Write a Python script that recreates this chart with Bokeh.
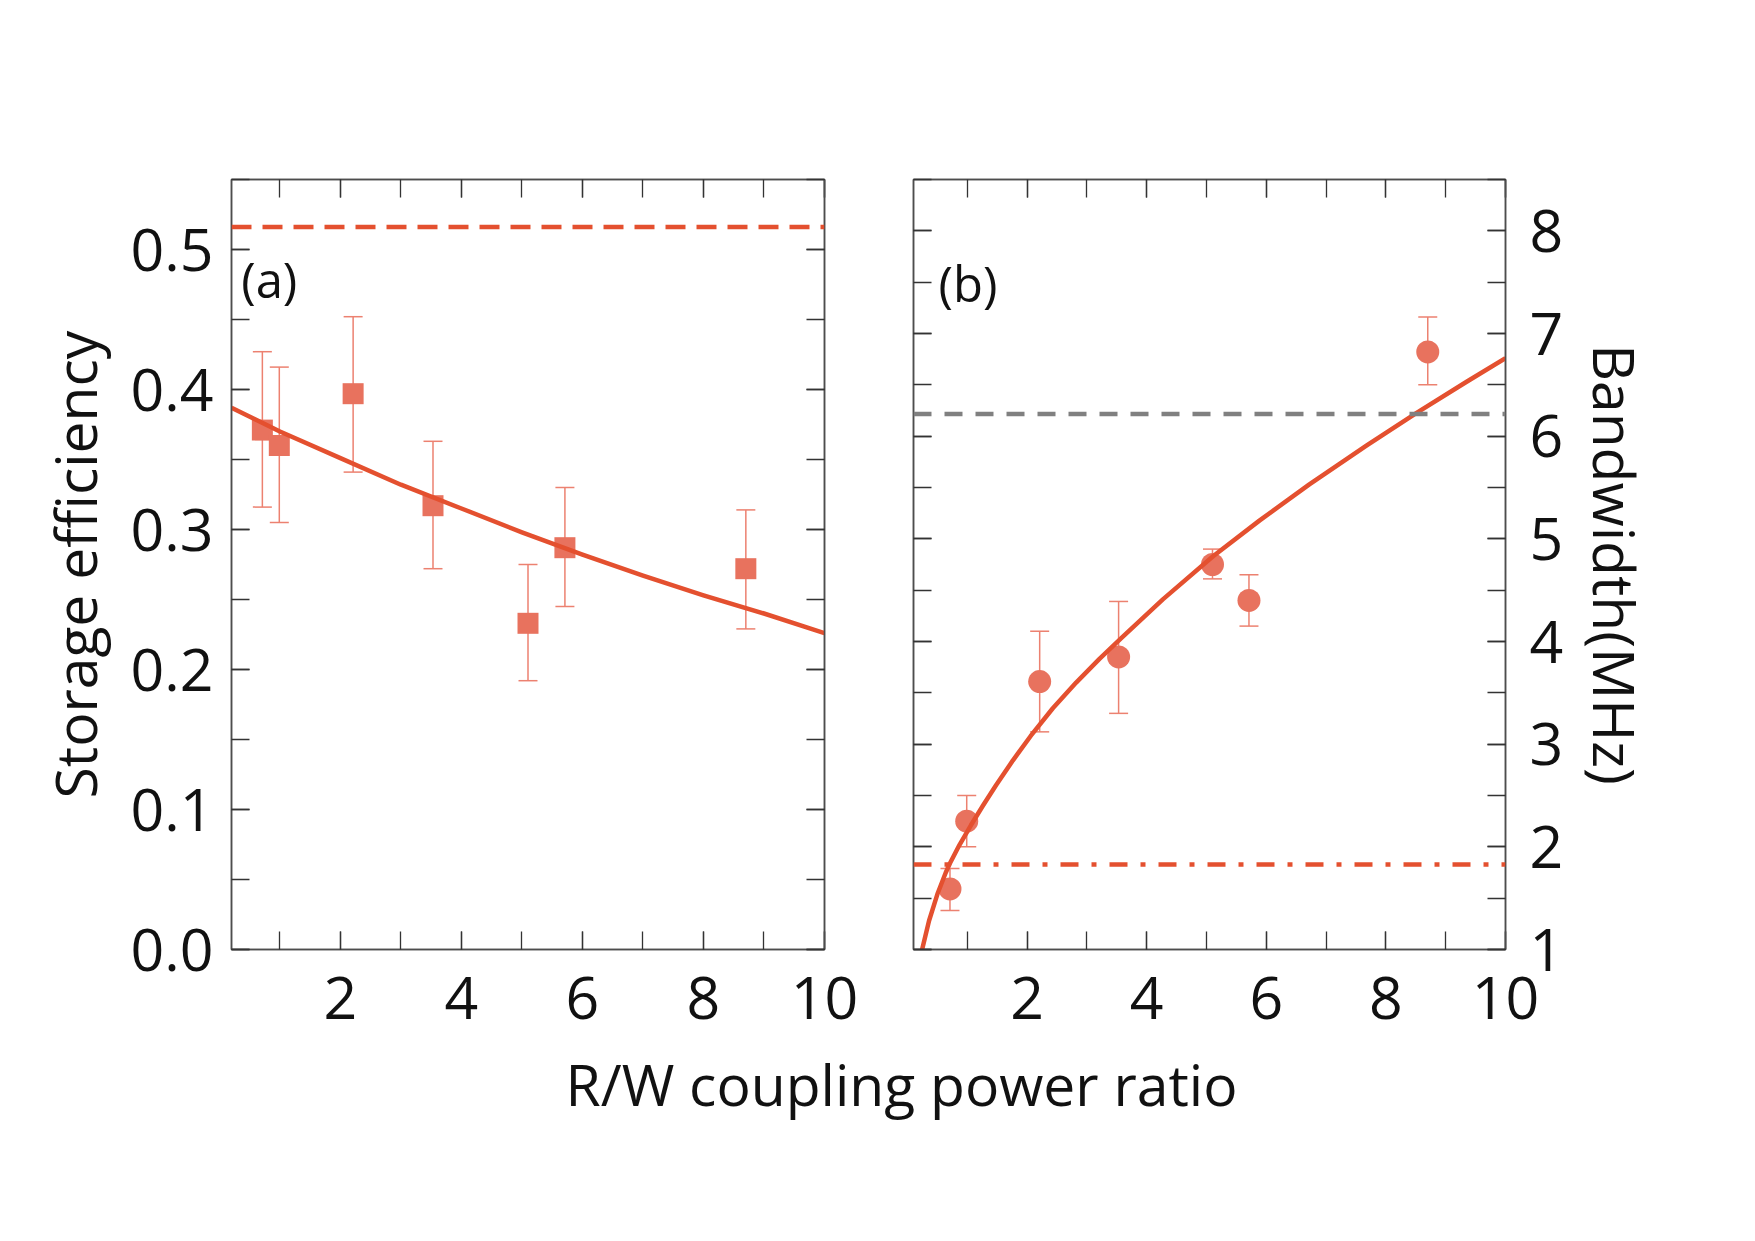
from bokeh.plotting import figure
from bokeh.layouts import row, column
from bokeh.models import (Range1d, LinearAxis, SingleIntervalTicker, PrintfTickFormatter,
                          Span, Label, CustomLabelingPolicy)
from bokeh.embed import file_html
from bokeh.resources import INLINE

# ---------------- data ----------------
ratio = [0.71, 0.99, 2.21, 3.53, 5.10, 5.71, 8.70]

eff = [0.371, 0.360, 0.397, 0.317, 0.233, 0.287, 0.272]
eff_hi = [0.427, 0.416, 0.452, 0.363, 0.275, 0.330, 0.314]
eff_lo = [0.316, 0.305, 0.341, 0.272, 0.192, 0.245, 0.229]

bw = [1.59, 2.25, 3.61, 3.85, 4.75, 4.40, 6.82]
bw_hi = [1.79, 2.50, 4.10, 4.39, 4.90, 4.65, 7.16]
bw_lo = [1.38, 2.00, 3.12, 3.30, 4.61, 4.15, 6.50]

fit_a_x = [0.2, 1, 2, 3, 4, 5, 6, 7, 8, 9, 10]
fit_a_y = [0.387, 0.370, 0.351, 0.332, 0.315, 0.298, 0.282, 0.267, 0.253, 0.240, 0.226]

fit_b_x = [0.24, 0.36, 0.50, 0.64, 0.71, 0.87, 1.06, 1.26, 1.48, 1.76, 2.06, 2.43,
           2.82, 3.21, 3.57, 4.27, 5.11, 5.89, 6.72, 7.68, 8.52, 9.35, 10.0]
fit_b_y = [0.99, 1.28, 1.54, 1.75, 1.84, 2.02, 2.21, 2.40, 2.60, 2.84, 3.08, 3.35,
           3.60, 3.83, 4.03, 4.41, 4.83, 5.18, 5.53, 5.91, 6.23, 6.53, 6.76]

eff_limit = 0.516
bw_gray = 6.216
bw_dashdot = 1.829

x_label = "R/W coupling power ratio"
ya_label = "Storage efficiency"
yb_label = "Bandwidth(MHz)"

# ---------------- styles ----------------
FONT = "Open Sans"
MARK = "#E8725E"
LINE = "#E4502F"
ERR = "#EC8170"
FRAME = "#4d4d4d"
TXT = "#111111"
TICK_SIZE = "59px"

NO_LABELS = CustomLabelingPolicy(code="""
for (let i = 0; i < indices.size; i++) { indices.unset(i) }
return indices
""")


def style_axis(ax, show_labels, standoff=18):
    ax.major_tick_in = 18
    ax.major_tick_out = 0
    ax.minor_tick_in = 18
    ax.minor_tick_out = 0
    ax.major_tick_line_color = "#333333"
    ax.minor_tick_line_color = "#333333"
    ax.major_tick_line_width = 1.3
    ax.minor_tick_line_width = 1.3
    ax.axis_line_color = FRAME
    ax.axis_line_width = 1.5
    ax.major_label_text_font = FONT
    ax.major_label_text_color = TXT
    ax.major_label_standoff = standoff
    ax.axis_label_text_font = FONT
    ax.axis_label_text_color = TXT
    ax.axis_label_text_font_style = "normal"
    if show_labels:
        ax.major_label_text_font_size = TICK_SIZE
    else:
        ax.major_label_text_font_size = "1px"
        ax.major_label_policy = NO_LABELS
        ax.major_label_standoff = 0


def make_panel(width, bl, br, xr, yr, xtick, ytick, yfmt, ylab_side):
    p = figure(width=width, height=1060, x_range=xr, y_range=yr,
               output_backend="svg", toolbar_location=None,
               x_axis_location=None, y_axis_location=None,
               min_border_left=bl, min_border_right=br,
               min_border_top=179, min_border_bottom=111)
    p.outline_line_color = FRAME
    p.outline_line_width = 1.5
    p.xgrid.visible = False
    p.ygrid.visible = False
    p.background_fill_color = "white"
    p.border_fill_color = "white"
    axes = {}
    for side in ["below", "above"]:
        ax = LinearAxis(ticker=SingleIntervalTicker(interval=xtick[0], num_minor_ticks=xtick[1]))
        style_axis(ax, side == "below", standoff=27)
        p.add_layout(ax, side)
        axes[side] = ax
    for side in ["left", "right"]:
        ax = LinearAxis(ticker=SingleIntervalTicker(interval=ytick[0], num_minor_ticks=ytick[1]),
                        formatter=PrintfTickFormatter(format=yfmt))
        style_axis(ax, side == ylab_side, standoff=18 if side == "left" else 24)
        p.add_layout(ax, side)
        axes[side] = ax
    return p, axes


# ---------------- panel (a) ----------------
pa, axa = make_panel(868, 231, 44, Range1d(0.2, 10), Range1d(0, 0.55),
                     (2, 2), (0.1, 2), "%.1f", "left")
axa["left"].axis_label = ya_label
axa["left"].axis_label_text_font_size = "57px"
axa["left"].axis_label_standoff = 14

pa.segment(x0=ratio, y0=eff_lo, x1=ratio, y1=eff_hi, line_color=ERR, line_width=1.5)
pa.scatter(x=ratio + ratio, y=eff_lo + eff_hi, marker="dash", size=19,
           line_color=ERR, line_width=1.5)
pa.scatter(x=ratio, y=eff, marker="square", size=21, fill_color=MARK,
           line_color=None)
pa.line(x=fit_a_x, y=fit_a_y, line_color=LINE, line_width=4.5, line_join="round")
pa.add_layout(Span(location=eff_limit, dimension="width", line_color=LINE,
                   line_width=4.5, line_dash="20 11"))
pa.add_layout(Label(x=0.36, y=0.479, text="(a)", text_font=FONT, text_font_size="49px",
                    text_baseline="middle", text_color=TXT))

# ---------------- panel (b) ----------------
pb, axb = make_panel(887, 45, 250, Range1d(0.1, 10), Range1d(1, 8.5),
                     (2, 2), (1, 2), "%d", "right")
axb["right"].axis_label = yb_label
axb["right"].axis_label_text_font_size = "57px"
axb["right"].axis_label_standoff = 10

pb.segment(x0=ratio, y0=bw_lo, x1=ratio, y1=bw_hi, line_color=ERR, line_width=1.5)
pb.scatter(x=ratio + ratio, y=bw_lo + bw_hi, marker="dash", size=19,
           line_color=ERR, line_width=1.5)
pb.scatter(x=ratio, y=bw, marker="circle", size=23, fill_color=MARK, line_color=None)
pb.line(x=fit_b_x, y=fit_b_y, line_color=LINE, line_width=4.5, line_join="round")
pb.add_layout(Span(location=bw_gray, dimension="width", line_color="#808080",
                   line_width=4.5, line_dash="18 13"))
pb.add_layout(Span(location=bw_dashdot, dimension="width", line_color=LINE,
                   line_width=4.5, line_dash="18 13 5 13"))
pb.add_layout(Label(x=0.52, y=7.49, text="(b)", text_font=FONT, text_font_size="49px",
                    text_baseline="middle", text_color=TXT))

# ---------------- common x label ----------------
pc = figure(width=1755, height=181, x_range=Range1d(0, 1755), y_range=Range1d(0, 181),
            output_backend="svg", toolbar_location=None,
            x_axis_location=None, y_axis_location=None,
            min_border=0, min_border_left=0, min_border_right=0,
            min_border_top=0, min_border_bottom=0)
pc.outline_line_color = None
pc.xgrid.visible = False
pc.ygrid.visible = False
pc.add_layout(Label(x=901, y=158, text=x_label, text_font=FONT,
                    text_font_size="57px", text_align="center",
                    text_baseline="alphabetic", text_color=TXT))

layout = column(row(pa, pb, spacing=0), pc, spacing=0)

with open("out.html", "w") as f:
    f.write(file_html(layout, INLINE))
